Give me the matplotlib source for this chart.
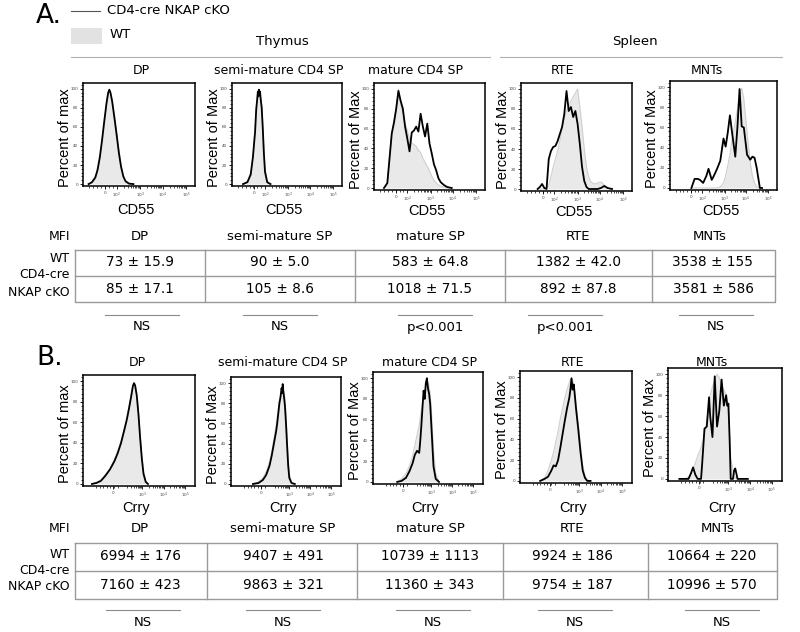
import numpy as np
import matplotlib.pyplot as plt
from matplotlib.ticker import MultipleLocator

# ---- histogram data (x in display units 0-100 across the axis, y = percent of max)
a_dp_x = [5, 8, 11, 13, 15, 17, 19, 21, 22.5, 23.5, 24.5, 26, 28, 30, 32, 34, 36, 38, 41, 45]
a_dp_wt = [0, 1, 5, 12, 25, 42, 62, 82, 94, 98, 96, 88, 72, 55, 36, 20, 9, 3, 1, 0]
a_dp_ko = [0, 2, 7, 15, 28, 46, 66, 85, 96, 99, 96, 87, 70, 52, 33, 18, 8, 3, 0.5, 0]

a_semi_x = [10, 14, 17, 19, 21, 22, 23, 23.5, 24, 24.5, 25, 25.5, 26, 27, 28, 29, 30, 32, 35]
a_semi_wt = [0, 3, 12, 30, 58, 80, 92, 96, 98, 97, 95, 96, 93, 82, 60, 35, 15, 3, 0]
a_semi_ko = [0, 2, 10, 28, 55, 78, 90, 97, 92, 99, 94, 97, 90, 80, 58, 32, 13, 2, 0]

a_mat_x = [9, 12, 14, 16, 18, 20, 22, 24, 26, 28, 30, 32, 34, 36, 38, 40, 42, 44, 46, 48,
           50, 52, 54, 56, 58, 60, 63, 66, 70]
a_mat_wt = [0, 5, 30, 55, 68, 82, 100, 85, 75, 65, 58, 50, 45, 44, 42, 38, 36, 30, 26, 22,
            17, 12, 8, 5, 3, 2, 1, 0, 0]
a_mat_ko = [0, 5, 30, 55, 66, 80, 98, 88, 80, 62, 50, 37, 56, 58, 62, 57, 75, 62, 52, 65,
            45, 35, 24, 18, 10, 6, 3, 1, 0]

a_rte_x = [15, 17, 19, 21, 23, 25, 27, 29, 31, 33, 35, 37, 39, 41, 43, 45, 47, 49, 51, 53,
           55, 57, 59, 61, 63, 66, 69, 72, 75, 78, 82]
a_rte_wt = [0, 0, 0, 0, 1, 4, 12, 22, 30, 38, 48, 60, 70, 78, 82, 88, 92, 96, 100, 82,
            62, 40, 22, 12, 7, 5, 6, 7, 4, 1, 0]
a_rte_ko = [0, 2, 5, 1, 0, 30, 38, 42, 43, 48, 55, 62, 75, 98, 78, 82, 72, 78, 65, 45,
            22, 8, 2, 0, 0, 0, 0, 1, 3, 1, 0]

a_mnt_x = [20, 23, 26, 28, 31, 34, 36, 39, 41, 44, 47, 50, 52, 54, 56, 58, 61, 63, 65, 67,
           69, 72, 75, 77, 79, 81, 84, 86]
a_mnt_wt = [0, 0, 0, 0, 0, 0, 0, 0, 0, 0, 1, 5, 12, 22, 33, 48, 65, 78, 92, 99,
            88, 55, 25, 12, 5, 1, 0, 0]
a_mnt_ko = [0, 9, 9, 8, 5, 12, 19, 8, 12, 19, 27, 49, 41, 55, 72, 55, 31, 60, 98, 61,
            60, 33, 28, 31, 30, 20, 0, 0]

b_dp_x = [8, 12, 16, 20, 24, 28, 31, 34, 37, 39, 41, 43, 44.5, 45.5, 46.5, 48, 49.5, 51, 52.5, 54, 56, 58]
b_dp_wt = [0, 1, 4, 9, 15, 24, 32, 42, 55, 64, 75, 87, 96, 99, 97, 88, 70, 48, 28, 12, 3, 0]
b_dp_ko = [0, 1, 3, 8, 14, 22, 30, 40, 53, 62, 73, 85, 95, 98, 96, 86, 68, 45, 25, 10, 2, 0]

b_semi_x = [20, 25, 29, 32, 35, 37, 39, 41, 42, 43, 44, 45, 46, 46.5, 47, 47.5, 48, 49, 50, 51, 52, 53, 55, 58]
b_semi_wt = [0, 2, 6, 12, 22, 32, 45, 58, 66, 74, 82, 88, 92, 94, 95, 95, 93, 85, 68, 45, 25, 10, 2, 0]
b_semi_ko = [0, 1, 4, 9, 18, 28, 40, 52, 60, 70, 80, 86, 95, 90, 99, 92, 88, 78, 60, 38, 18, 6, 1, 0]

b_mat_x = [22, 26, 30, 33, 36, 38, 40, 42, 43, 44, 45, 46, 47, 48, 49, 50, 51, 52, 53, 54, 55, 57, 60]
b_mat_wt = [0, 3, 8, 15, 25, 35, 45, 55, 62, 70, 75, 82, 88, 92, 94, 96, 92, 85, 70, 50, 30, 8, 0]
b_mat_ko = [0, 1, 4, 10, 18, 26, 30, 28, 40, 55, 72, 88, 80, 95, 100, 90, 85, 75, 55, 35, 15, 3, 0]

b_rte_x = [18, 22, 25, 28, 30, 32, 34, 36, 38, 40, 42, 44, 45, 46, 47, 48, 49, 50, 52, 54, 56, 58, 60, 63]
b_rte_wt = [0, 3, 10, 20, 28, 38, 48, 60, 70, 80, 88, 95, 98, 99, 97, 92, 85, 75, 55, 35, 15, 5, 1, 0]
b_rte_ko = [0, 2, 4, 10, 15, 14, 20, 32, 45, 58, 70, 80, 88, 99, 88, 93, 82, 70, 50, 28, 10, 3, 0, 0]

b_mnt_x = [10, 15, 18, 20, 22, 24, 26, 29, 30, 32, 34, 36, 37, 39, 41, 43, 45, 47, 49, 51,
           52, 53, 54, 55, 57, 58, 59, 61, 63, 70]
b_mnt_wt = [0, 0, 2, 5, 9, 15, 22, 30, 34, 42, 55, 70, 80, 88, 95, 100, 97, 90, 85, 80,
            72, 60, 40, 20, 8, 3, 1, 0, 0, 0]
b_mnt_ko = [0, 0, 0, 5, 11, 4, 0, 0, 15, 48, 50, 78, 60, 40, 98, 50, 65, 95, 70, 80,
            70, 72, 40, 0, 0, 8, 10, 0, 0, 0]

# ---- table data
cols_a = ["DP", "semi-mature SP", "mature SP", "RTE", "MNTs"]
panel_titles = ["DP", "semi-mature CD4 SP", "mature CD4 SP", "RTE", "MNTs"]
cd55_wt = ["73 ± 15.9", "90 ± 5.0", "583 ± 64.8", "1382 ± 42.0", "3538 ± 155"]
cd55_ko = ["85 ± 17.1", "105 ± 8.6", "1018 ± 71.5", "892 ± 87.8", "3581 ± 586"]
cd55_sig = ["NS", "NS", "p<0.001", "p<0.001", "NS"]
crry_wt = ["6994 ± 176", "9407 ± 491", "10739 ± 1113", "9924 ± 186", "10664 ± 220"]
crry_ko = ["7160 ± 423", "9863 ± 321", "11360 ± 343", "9754 ± 187", "10996 ± 570"]
crry_sig = ["NS", "NS", "NS", "NS", "NS"]

W, H = 800, 632
fig = plt.figure(figsize=(8, 6.32), dpi=100)
bg = fig.add_axes([0, 0, 1, 1])
bg.set_xlim(0, W)
bg.set_ylim(H, 0)
bg.axis('off')

TF = 'DejaVu Sans'
AF = 'Liberation Sans'
GRAY_FILL = '#e9e9e9'
GRAY_EDGE = '#cfcfcf'
LINE = '#9a9a9a'


def add_px_axes(l, t, r, b):
    return fig.add_axes([l / W, 1 - b / H, (r - l) / W, (b - t) / H])


def minor_positions(dec_pos):
    # log spaced minor ticks inside each decade, plus a few linear ones below
    out = []
    for p0, p1 in zip(dec_pos[:-1], dec_pos[1:]):
        for k in range(2, 10):
            out.append(p0 + (p1 - p0) * np.log10(k))
    step = (dec_pos[1] - dec_pos[0]) / 6
    out += [dec_pos[0] - step * i for i in range(1, 8) if dec_pos[0] - step * i > 0]
    return out


def hist(ax, x, wt, ko, ticks, labels, dec_pos):
    ax.fill_between(x, wt, color=GRAY_FILL, lw=0)
    ax.plot(x, wt, color=GRAY_EDGE, lw=0.8)
    ax.plot(x, ko, color='black', lw=1.3)
    ax.set_xlim(0, 100)
    ax.set_ylim(-2, 106)
    ax.set_xticks(ticks)
    ax.set_xticklabels(labels)
    ax.set_xticks(minor_positions(dec_pos), minor=True)
    ax.set_yticks([0, 20, 40, 60, 80, 100])
    ax.yaxis.set_minor_locator(MultipleLocator(4))
    ax.tick_params(which='major', length=2, width=0.6, labelsize=3, pad=1.5, labelcolor='#444')
    ax.tick_params(which='minor', length=1.2, width=0.5)
    for s in ax.spines.values():
        s.set_linewidth(1.1)


a_ticks = [20, 30, 51, 71, 92]
a_labels = ["0", "10$^2$", "10$^3$", "10$^4$", "10$^5$"]
a_dec = [30, 51, 71, 92]
b_ticks = [27, 53, 72, 91]
b_labels = ["0", "10$^3$", "10$^4$", "10$^5$"]
b_dec = [34, 53, 72, 91]

a_boxes = [(83, 83, 195, 186), (232, 83, 342, 186), (374, 83, 485, 190),
           (521, 83, 632, 191), (670, 81, 777, 190)]
b_boxes = [(83, 375, 195, 486), (231, 377, 341, 486), (373, 372, 483, 484),
           (520, 371, 632, 483), (668, 368, 782, 481)]
a_data = [(a_dp_x, a_dp_wt, a_dp_ko), (a_semi_x, a_semi_wt, a_semi_ko),
          (a_mat_x, a_mat_wt, a_mat_ko), (a_rte_x, a_rte_wt, a_rte_ko),
          (a_mnt_x, a_mnt_wt, a_mnt_ko)]
b_data = [(b_dp_x, b_dp_wt, b_dp_ko), (b_semi_x, b_semi_wt, b_semi_ko),
          (b_mat_x, b_mat_wt, b_mat_ko), (b_rte_x, b_rte_wt, b_rte_ko),
          (b_mnt_x, b_mnt_wt, b_mnt_ko)]
a_title_x = [141, 279, 415, 563, 707]
b_title_x = [137, 283, 430, 572, 712]

for i, (box, d) in enumerate(zip(a_boxes, a_data)):
    ax = add_px_axes(*box)
    hist(ax, *d, a_ticks, a_labels, a_dec)
    l, t, r, b = box
    bg.text(a_title_x[i], 71, panel_titles[i], ha='center', va='center', fontsize=9, family=TF)
    bg.text(l - 18, (t + b) / 2 + 3, "Percent of max" if i == 0 else "Percent of Max",
            rotation=90, ha='center', va='center', fontsize=10.5, family=AF)
    bg.text((l + r) / 2 - 3, max(210, b + 21), "CD55", ha='center', va='center',
            fontsize=10.5, family=AF)

for i, (box, d) in enumerate(zip(b_boxes, b_data)):
    ax = add_px_axes(*box)
    hist(ax, *d, b_ticks, b_labels, b_dec)
    l, t, r, b = box
    bg.text(b_title_x[i], 362, panel_titles[i], ha='center', va='center', fontsize=9, family=TF)
    bg.text(l - 18, (t + b) / 2 + 3, "Percent of max" if i == 0 else "Percent of Max",
            rotation=90, ha='center', va='center', fontsize=10.5, family=AF)
    bg.text((l + r) / 2 - 3, 508, "Crry", ha='center', va='center', fontsize=10.5, family=AF)

# ---- header: panel letters, legend, tissue groups
bg.text(36, 16, "A.", fontsize=19, family=TF, ha='left', va='center')
bg.text(36, 358, "B.", fontsize=19, family=TF, ha='left', va='center')
bg.plot([71, 100], [11, 11], color='#555', lw=0.8)
bg.text(107, 11, "CD4-cre NKAP cKO", fontsize=9.5, family=TF, va='center')
bg.add_patch(plt.Rectangle((71, 28), 31, 16, color='#e2e2e2', lw=0))
bg.text(110, 35, "WT", fontsize=9.5, family=TF, va='center')
bg.text(282, 42, "Thymus", fontsize=9.5, family=TF, ha='center', va='center')
bg.text(635, 42, "Spleen", fontsize=9.5, family=TF, ha='center', va='center')
bg.plot([71, 490], [57, 57], color='#b0b0b0', lw=0.8)
bg.plot([500, 782], [57, 57], color='#b0b0b0', lw=0.8)


def table(top, mid, bottom, right, dividers, head_y, head_x, col_x, r1, r2,
          wt_vals, ko_vals, sig, sig_y, sig_x, sig_half, lab_y):
    bg.plot([75, right, right, 75, 75], [top, top, bottom, bottom, top], color=LINE, lw=1)
    bg.plot([75, right], [mid, mid], color=LINE, lw=1)
    for d in dividers:
        bg.plot([d, d], [top, bottom], color=LINE, lw=1)
    bg.text(70, head_y, "MFI", ha='right', va='center', fontsize=9, family=TF)
    for hx, c in zip(head_x, cols_a):
        bg.text(hx, head_y, c, ha='center', va='center', fontsize=9.5, family=TF)
    for cx, w, k in zip(col_x, wt_vals, ko_vals):
        bg.text(cx, r1, w, ha='center', va='center', fontsize=9.8, family=TF)
        bg.text(cx, r2, k, ha='center', va='center', fontsize=9.8, family=TF)
    bg.text(70, lab_y[0], "WT", ha='right', va='center', fontsize=9, family=TF)
    bg.text(70, lab_y[1], "CD4-cre", ha='right', va='center', fontsize=9, family=TF)
    bg.text(70, lab_y[2], "NKAP cKO", ha='right', va='center', fontsize=9, family=TF)
    for sx, s in zip(sig_x, sig):
        bg.plot([sx - sig_half, sx + sig_half], [sig_y, sig_y], color='#8a8a8a', lw=0.8)
        bg.text(sx, sig_y + 12, s, ha='center', va='center', fontsize=9.5, family=TF)


table(250, 276, 302, 775, [205, 355, 505, 652], 237, [140, 280, 430, 578, 710],
      [140, 280, 430, 578, 713], 262, 289, cd55_wt, cd55_ko, cd55_sig, 315,
      [142, 280, 435, 565, 716], 37, [258, 275, 292])
table(543, 571, 599, 777, [207, 357, 503, 648], 528, [140, 283, 430, 572, 718],
      [140, 283, 430, 572, 712], 556, 585, crry_wt, crry_ko, crry_sig, 610,
      [143, 283, 433, 575, 722], 37, [555, 571, 587])

fig.savefig("out.png", dpi=100)
